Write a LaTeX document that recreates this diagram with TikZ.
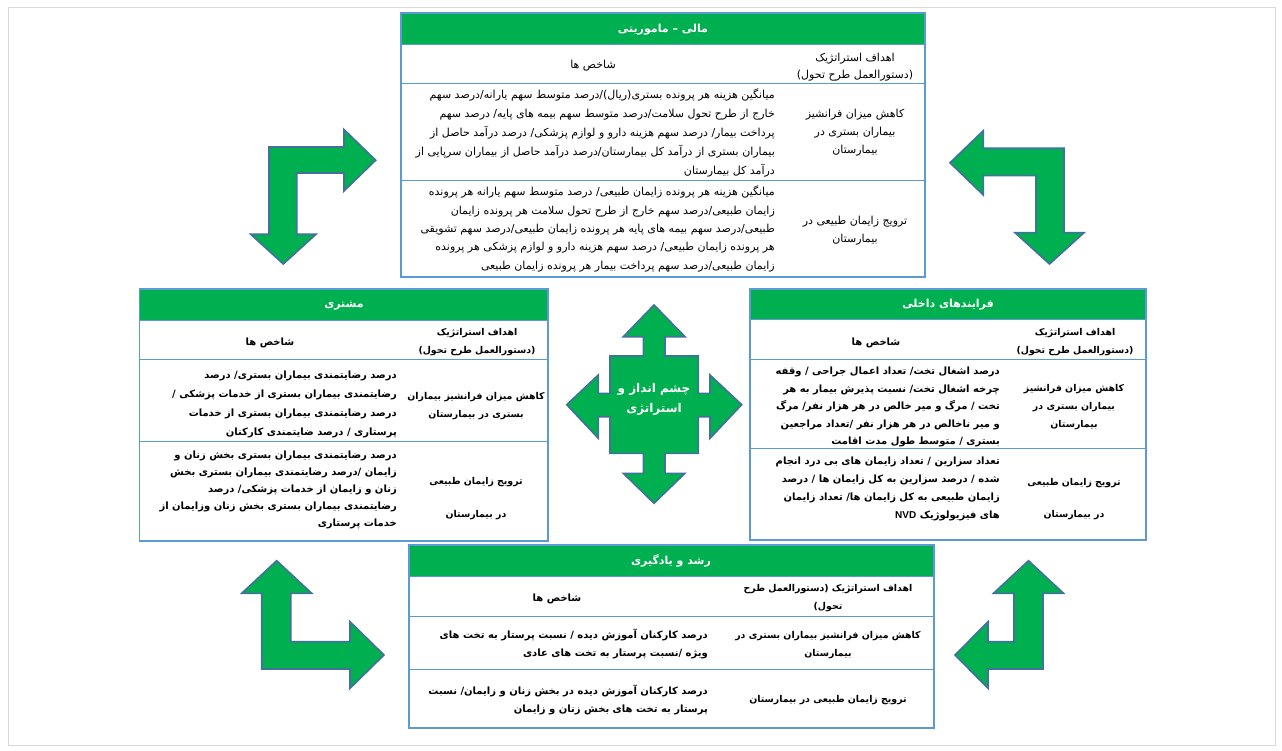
\documentclass[tikz,border=0pt]{standalone}
\usepackage{fontspec}
\TeXXeTstate=1
\newfontfamily\fa[Script=Arabic]{DejaVu Sans}
\newfontfamily\latinb{Liberation Sans}
\definecolor{hgreen}{HTML}{00B050}
\definecolor{tblue}{HTML}{5B9BD5}
\definecolor{aoutline}{HTML}{41719C}
\newcommand\RL[1]{\beginR #1\endR}
\begin{document}
\begin{tikzpicture}[x=1pt,y=-1pt,
  tbl/.style={draw=tblue, line width=1.2pt},
  tline/.style={draw=tblue, line width=1pt},
  hdrtext/.style={text=white, font=\fa\bfseries\fontsize{11}{13}\selectfont, inner sep=0pt, anchor=base},
  rg/.style={font=\fa\fontsize{11}{13}\selectfont, inner sep=0pt},
  bd/.style={font=\fa\bfseries\fontsize{10}{12}\selectfont, inner sep=0pt},
  bdg/.style={font=\fa\bfseries\fontsize{9.4}{12}\selectfont, inner sep=0pt, anchor=base},
  bigarrow/.style={fill=hgreen, draw=aoutline, line width=1.6pt, line join=miter}
]
\useasboundingbox (0,0) rectangle (1282,751);
\fill[white] (0,0) rectangle (1282,751);
\draw[gray!30, line width=0.8pt] (8,7) rectangle (1275,745);

% ---------- corner arrows ----------
\draw[bigarrow] (269,147) -- (344,147) -- (344,129.5) -- (375.7,160.2) -- (344,191) -- (344,173) -- (296.7,173) -- (296.7,234.3) -- (316,234.3) -- (283.3,264) -- (250.7,234.3) -- (269,234.3) -- cycle;
\draw[bigarrow] (1064,148.3) -- (983.3,148.3) -- (983.3,130.7) -- (950,162.8) -- (983.3,195) -- (983.3,175.7) -- (1036,175.7) -- (1036,232.7) -- (1015,232.7) -- (1049.5,264) -- (1084,232.7) -- (1064,232.7) -- cycle;
\draw[bigarrow] (261.7,669) -- (350,669) -- (350,688.3) -- (384,655) -- (350,621.7) -- (350,641.7) -- (290.7,641.7) -- (290.7,593.3) -- (311.7,593.3) -- (276.7,560.7) -- (241.7,593.3) -- (261.7,593.3) -- cycle;
\draw[bigarrow] (1043,669) -- (988,669) -- (988,688.3) -- (955,655) -- (988,621.7) -- (988,641.7) -- (1014,641.7) -- (1014,593.3) -- (993.5,593.3) -- (1028.5,560.7) -- (1063.5,593.3) -- (1043,593.3) -- cycle;

% ---------- centre cross ----------
\draw[bigarrow] (654,305) -- (685,336.7) -- (665,336.7) -- (665,356) -- (698.3,356) -- (698.3,393.3) -- (710,393.3) -- (710,375) -- (741.7,404.7) -- (710,438.3) -- (710,416.7) -- (698.3,416.7) -- (698.3,453.3) -- (665,453.3) -- (665,473.3) -- (685,473.3) -- (654,503.3) -- (623.3,473.3) -- (643.3,473.3) -- (643.3,453.3) -- (610,453.3) -- (610,416.7) -- (598.3,416.7) -- (598.3,438.3) -- (566.7,404.7) -- (598.3,375) -- (598.3,393.3) -- (610,393.3) -- (610,356) -- (643.3,356) -- (643.3,336.7) -- (623.3,336.7) -- cycle;
\node[hdrtext, font=\fa\bfseries\fontsize{12}{14}\selectfont] (vis1) at (654,392) {\RL{چشم انداز و}};
\node[hdrtext, font=\fa\bfseries\fontsize{12}{14}\selectfont] (vis2) at (654,412) {\RL{استراتژی}};

% ---------- top table ----------
\fill[hgreen] (401,13) rectangle (925,45);
\draw[tbl] (401,13) rectangle (925,277);
\draw[tline] (401,45) -- (925,45) (401,84) -- (925,84) (401,181) -- (925,181);
\node[hdrtext] (th) at (663,33) {\RL{مالی – ماموریتی}};
\node[rg, anchor=base] (tk) at (593,69) {\RL{شاخص ها}};
\node[rg, anchor=base] (tg1) at (855,62) {\RL{اهداف استراتژیک}};
\node[rg, anchor=base] (tg2) at (855,79) {\RL{(دستورالعمل طرح تحول)}};
\node[rg, anchor=base east] (ta1) at (775,99) {\RL{میانگین هزینه هر پرونده بستری(ریال)/درصد متوسط سهم یارانه/درصد سهم}};
\node[rg, anchor=base east] (ta2) at (775,118) {\RL{خارج از طرح تحول سلامت/درصد متوسط سهم بیمه های پایه/ درصد سهم}};
\node[rg, anchor=base east] (ta3) at (775,137) {\RL{پرداخت بیمار/ درصد سهم هزینه دارو و لوازم پزشکی/ درصد درآمد حاصل از}};
\node[rg, anchor=base east] (ta4) at (775,156) {\RL{بیماران بستری از درآمد کل بیمارستان/درصد درآمد حاصل از بیماران سرپایی از}};
\node[rg, anchor=base east] (ta5) at (775,175) {\RL{درآمد کل بیمارستان}};
\node[rg, anchor=base] (tag1) at (855,118) {\RL{کاهش میزان فرانشیز}};
\node[rg, anchor=base] (tag2) at (855,136) {\RL{بیماران بستری در}};
\node[rg, anchor=base] (tag3) at (855,154) {\RL{بیمارستان}};
\node[rg, anchor=base east] (tb1) at (775,196) {\RL{میانگین هزینه هر پرونده زایمان طبیعی/ درصد متوسط سهم یارانه هر پرونده}};
\node[rg, anchor=base east] (tb2) at (775,215) {\RL{زایمان طبیعی/درصد سهم خارج از طرح تحول سلامت هر پرونده زایمان}};
\node[rg, anchor=base east] (tb3) at (775,233) {\RL{طبیعی/درصد سهم بیمه های پایه هر پرونده زایمان طبیعی/درصد سهم تشویقی}};
\node[rg, anchor=base east] (tb4) at (775,251) {\RL{هر  پرونده زایمان طبیعی/ درصد سهم هزینه  دارو و لوازم پزشکی هر پرونده}};
\node[rg, anchor=base east] (tb5) at (775,270) {\RL{زایمان طبیعی/درصد سهم پرداخت بیمار هر پرونده زایمان طبیعی}};
\node[rg, anchor=base] (tbg1) at (855,225) {\RL{ترویج زایمان طبیعی در}};
\node[rg, anchor=base] (tbg2) at (855,243) {\RL{بیمارستان}};

% ---------- left table ----------
\fill[hgreen] (139.5,289) rectangle (548,320);
\draw[tbl] (139.5,289) rectangle (548,541);
\draw[tline] (139.5,320) -- (548,320) (139.5,359) -- (548,359) (139.5,441) -- (548,441);
\node[hdrtext] (lh) at (344,308) {\RL{مشتری}};
\node[bd, anchor=base] (lk) at (270,345) {\RL{شاخص ها}};
\node[bdg] (lg1) at (477,335) {\RL{اهداف استراتژیک}};
\node[bdg] (lg2) at (477,353) {\RL{(دستورالعمل طرح تحول)}};
\node[bd, anchor=base east] (la1) at (397,378) {\RL{درصد رضایتمندی بیماران بستری/ درصد}};
\node[bd, anchor=base east] (la2) at (397,397) {\RL{رضایتمندی بیماران بستری از خدمات پزشکی /}};
\node[bd, anchor=base east] (la3) at (397,416) {\RL{درصد رضایتمندی بیماران بستری از خدمات}};
\node[bd, anchor=base east] (la4) at (397,435) {\RL{پرستاری / درصد ضایتمندی کارکنان}};
\node[bdg] (lag1) at (476,399) {\RL{کاهش میزان فرانشیز بیماران}};
\node[bdg] (lag2) at (476,417) {\RL{بستری در بیمارستان}};
\node[bd, anchor=base east] (lb1) at (397,458) {\RL{درصد رضایتمندی بیماران بستری بخش زنان و}};
\node[bd, anchor=base east] (lb2) at (397,475) {\RL{زایمان /درصد رضایتمندی بیماران  بستری بخش}};
\node[bd, anchor=base east] (lb3) at (397,492) {\RL{زنان و زایمان از خدمات پزشکی/ درصد}};
\node[bd, anchor=base east] (lb4) at (397,509) {\RL{رضایتمندی بیماران بستری بخش زنان وزایمان از}};
\node[bd, anchor=base east] (lb5) at (397,526) {\RL{خدمات پرستاری}};
\node[bdg] (lbg1) at (476,484) {\RL{ترویج زایمان طبیعی}};
\node[bdg] (lbg2) at (476,517) {\RL{در بیمارستان}};

% ---------- right table ----------
\fill[hgreen] (750,289) rectangle (1146,319);
\draw[tbl] (750,289) rectangle (1146,540);
\draw[tline] (750,319) -- (1146,319) (750,359) -- (1146,359) (750,448) -- (1146,448);
\node[hdrtext] (rh) at (948,307) {\RL{فرایندهای داخلی}};
\node[bd, anchor=base] (rk) at (876,345) {\RL{شاخص ها}};
\node[bdg] (rg1) at (1075,335) {\RL{اهداف استراتژیک}};
\node[bdg] (rg2) at (1075,353) {\RL{(دستورالعمل طرح تحول)}};
\node[bd, anchor=base east] (ra1) at (1000,374) {\RL{درصد اشغال تخت/ تعداد اعمال جراحی / وقفه}};
\node[bd, anchor=base east] (ra2) at (1000,392) {\RL{چرخه اشغال تخت/ نسبت پذیرش بیمار به هر}};
\node[bd, anchor=base east] (ra3) at (1000,409) {\RL{تخت / مرگ و میر خالص در هر هزار نفر/ مرگ}};
\node[bd, anchor=base east] (ra4) at (1000,427) {\RL{و میر ناخالص در هر هزار نفر /تعداد مراجعین}};
\node[bd, anchor=base east] (ra5) at (1000,444) {\RL{بستری / متوسط طول مدت اقامت}};
\node[bdg] (rag1) at (1074,391) {\RL{کاهش میزان فرانشیز}};
\node[bdg] (rag2) at (1074,409) {\RL{بیماران بستری در}};
\node[bdg] (rag3) at (1074,427) {\RL{بیمارستان}};
\node[bd, anchor=base east] (rb1) at (1000,464) {\RL{تعداد سزارین / تعداد زایمان های بی درد انجام}};
\node[bd, anchor=base east] (rb2) at (1000,482) {\RL{شده / درصد  سزارین به کل زایمان ها / درصد}};
\node[bd, anchor=base east] (rb3) at (1000,500) {\RL{زایمان طبیعی به کل زایمان ها/ تعداد زایمان}};
\node[bd, anchor=base east] (rb4) at (1000,518) {\RL{های فیزیولوژیک {\latinb\bfseries\beginL NVD\endL}}};
\node[bdg] (rbg1) at (1074,485) {\RL{ترویج زایمان طبیعی}};
\node[bdg] (rbg2) at (1074,517) {\RL{در بیمارستان}};

% ---------- bottom table ----------
\fill[hgreen] (409,545) rectangle (934,576);
\draw[tbl] (409,545) rectangle (934,728);
\draw[tline] (409,576) -- (934,576) (409,616) -- (934,616) (409,669) -- (934,669);
\node[hdrtext] (bh) at (671,564) {\RL{رشد و یادگیری}};
\node[bd, anchor=base] (bk) at (557,601) {\RL{شاخص ها}};
\node[bdg] (bg1) at (828,591) {\RL{اهداف استراتژیک (دستورالعمل طرح}};
\node[bdg] (bg2) at (828,609) {\RL{تحول)}};
\node[bd, anchor=base east] (ba1) at (708,638) {\RL{درصد کارکنان آموزش دیده / نسبت پرستار به تخت های}};
\node[bd, anchor=base east] (ba2) at (708,656) {\RL{ویژه /نسبت پرستار به تخت های عادی}};
\node[bdg] (bag1) at (828,638) {\RL{کاهش میزان فرانشیز بیماران بستری در}};
\node[bdg] (bag2) at (828,656) {\RL{بیمارستان}};
\node[bd, anchor=base east] (bb1) at (708,694) {\RL{درصد کارکنان آموزش دیده در بخش زنان و زایمان/ نسبت}};
\node[bd, anchor=base east] (bb2) at (708,712) {\RL{پرستار به تخت های بخش زنان و زایمان}};
\node[bdg] (bbg1) at (828,702) {\RL{ترویج زایمان طبیعی در بیمارستان}};
\end{tikzpicture}
\end{document}
